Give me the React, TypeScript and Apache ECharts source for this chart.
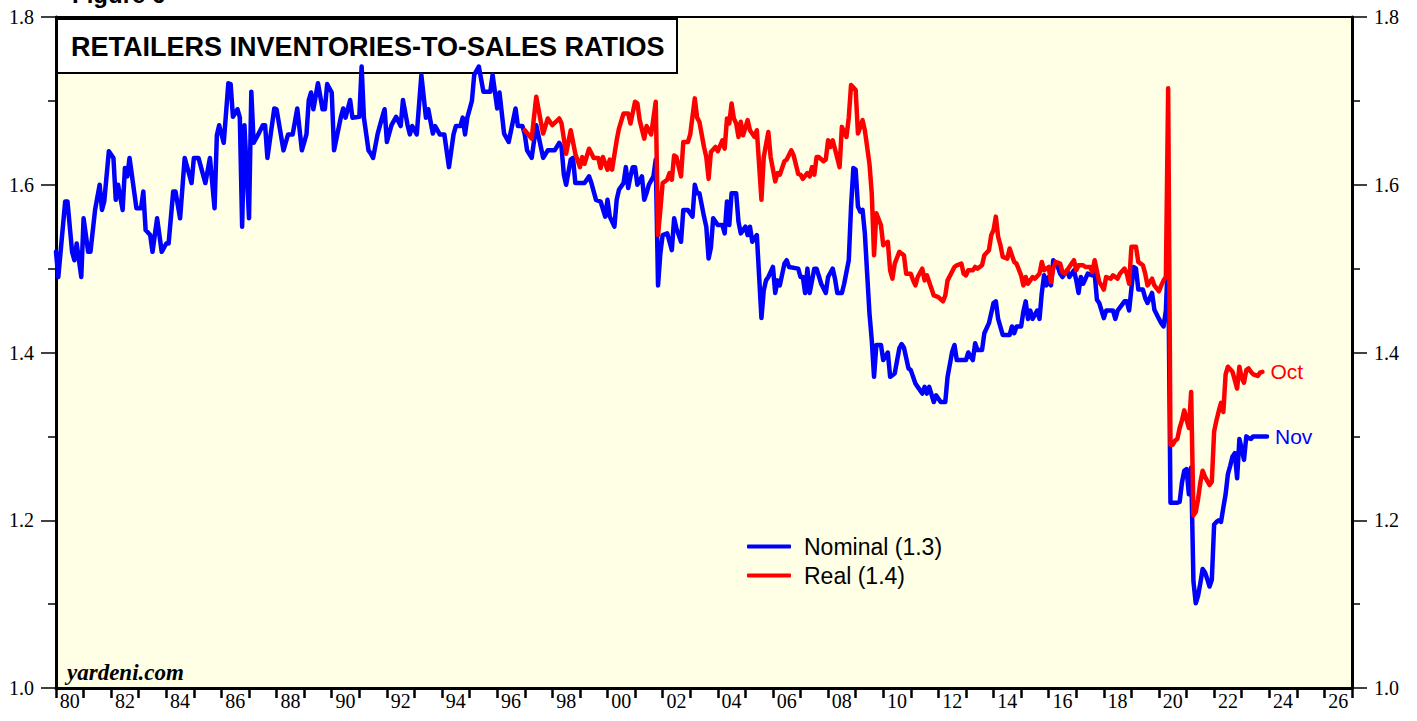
import React, { useEffect, useRef } from "react";
import * as echarts from "echarts";

// Each point: [months since Jan 1980, ratio]
const nominal1980s: [number, number][] = [
  [0,1.52],[1,1.49],[4,1.58],[5,1.58],[7,1.52],[8,1.51],[9,1.53],[11,1.49],[12,1.56],[14,1.52],[15,1.52],[17,1.57],
  [19,1.60],[20,1.57],[21,1.58],[23,1.64],[25,1.632],[26,1.582],[27,1.60],[29,1.57],[30,1.62],[31,1.61],[32,1.632],
  [35,1.572],[37,1.572],[38,1.592],[39,1.546],[41,1.54],[42,1.52],[44,1.56],[46,1.52],[48,1.53],[49,1.53],[51,1.592],
  [52,1.592],[54,1.56],[56,1.632],[59,1.602],[60,1.632],[62,1.632],[65,1.602],[67,1.632],[69,1.572],[70,1.659],
  [71,1.671],[73,1.65],[75,1.721],[76,1.72],[77,1.681],[79,1.69],[80,1.68],[81,1.55],[82,1.671],[84,1.56],[85,1.711],
  [86,1.65],[88,1.66],[90,1.671],[91,1.671],[92,1.632],[95,1.691],[96,1.69],[99,1.641],[101,1.66],[103,1.66],
  [105,1.691],[107,1.641],[109,1.66],[110,1.701],[111,1.71],[112,1.69],[114,1.721],[116,1.69],[117,1.69],[118,1.72]
];
const nominal1990s: [number, number][] = [
  [120,1.71],[121,1.641],[124,1.681],[125,1.691],[126,1.68],[128,1.701],[129,1.68],[132,1.681],[133,1.741],[134,1.68],
  [136,1.641],[137,1.637],[138,1.632],[140,1.661],[142,1.681],[143,1.69],[144,1.651],[146,1.671],[148,1.681],[150,1.67],
  [151,1.701],[153,1.671],[154,1.66],[155,1.67],[157,1.66],[159,1.731],[161,1.68],[162,1.69],[164,1.661],[165,1.67],
  [167,1.66],[169,1.66],[171,1.621],[173,1.66],[174,1.67],[176,1.67],[177,1.68],[178,1.66],[179,1.68],[181,1.70],
  [182,1.731],[184,1.741],[186,1.711],[189,1.711],[190,1.731],[192,1.691],[193,1.71],[195,1.661],[197,1.651],
  [200,1.691],[201,1.67],[203,1.67],[204,1.66],[205,1.641],[207,1.632],[209,1.671],[211,1.645],[212,1.632],
  [214,1.641],[217,1.641],[219,1.65],[220,1.645],[221,1.612],[222,1.60],[224,1.63],[225,1.632],[226,1.602],
  [230,1.602],[232,1.61],[233,1.602],[235,1.582],[237,1.58],[239,1.562]
];
const nominal2000s: [number, number][] = [
  [240,1.582],[241,1.562],[243,1.55],[244,1.582],[245,1.594],[247,1.602],[248,1.621],[249,1.596],[250,1.61],
  [251,1.621],[252,1.621],[253,1.60],[255,1.61],[256,1.582],[257,1.59],[258,1.60],[260,1.61],[261,1.63],[262,1.48],
  [263,1.518],[264,1.54],[266,1.542],[268,1.522],[269,1.56],[270,1.548],[272,1.532],[273,1.57],[275,1.57],[277,1.562],
  [278,1.60],[279,1.59],[280,1.59],[282,1.562],[283,1.55],[284,1.512],[285,1.525],[286,1.56],[288,1.552],[290,1.552],
  [291,1.542],[292,1.58],[293,1.552],[294,1.59],[296,1.59],[297,1.556],[298,1.542],[300,1.55],[301,1.54],[302,1.55],
  [303,1.532],[305,1.54],[307,1.441],[308,1.474],[309,1.486],[310,1.49],[312,1.502],[313,1.471],[314,1.486],
  [315,1.48],[317,1.506],[318,1.51],[319,1.502],[323,1.50],[324,1.49],[325,1.49],[326,1.471],[327,1.50],[328,1.471],
  [330,1.50],[331,1.50],[333,1.482],[335,1.471],[336,1.49],[338,1.50],[339,1.488],[340,1.471],[342,1.471],
  [343,1.482],[345,1.51],[346,1.574],[347,1.62],[348,1.618],[349,1.574],[350,1.568],[351,1.57],[352,1.542],
  [353,1.494],[354,1.447],[355,1.415],[356,1.371],[357,1.409],[359,1.409]
];
const nominal2010s: [number, number][] = [
  [360,1.391],[362,1.40],[363,1.371],[365,1.375],[367,1.405],[368,1.41],[369,1.406],[371,1.381],[372,1.379],
  [374,1.363],[375,1.359],[377,1.351],[378,1.359],[379,1.351],[380,1.359],[382,1.341],[383,1.349],[385,1.341],
  [387,1.341],[388,1.371],[390,1.401],[391,1.409],[392,1.391],[396,1.391],[397,1.40],[399,1.391],[400,1.411],
  [401,1.403],[403,1.403],[404,1.423],[406,1.435],[408,1.459],[409,1.461],[410,1.44],[412,1.421],[415,1.421],
  [416,1.431],[417,1.423],[418,1.431],[420,1.431],[421,1.449],[422,1.461],[423,1.44],[424,1.45],[425,1.44],
  [427,1.45],[428,1.44],[429,1.471],[430,1.492],[431,1.48],[432,1.49],[433,1.48],[434,1.51],[436,1.502],[437,1.494],
  [438,1.49],[440,1.498],[441,1.49],[443,1.498],[444,1.486],[445,1.471],[446,1.49],[447,1.482],[449,1.494],
  [451,1.492],[452,1.494],[453,1.463],[454,1.459],[456,1.441],[457,1.45],[460,1.45],[461,1.44],[462,1.45],
  [465,1.461],[466,1.461],[467,1.45],[469,1.502],[470,1.50],[471,1.475],[473,1.475],[474,1.465],[475,1.459],
  [477,1.471],[478,1.451]
];
const nominal2020s: [number, number][] = [
  [480,1.44],[481,1.435],[482,1.431],[483,1.45],[484,1.52],[485,1.221],[486,1.221],[487,1.221],[488,1.221],
  [489,1.222],[490,1.245],[491,1.259],[492,1.261],[493,1.231],[494,1.263],[495,1.127],[496,1.101],[497,1.11],
  [498,1.125],[499,1.142],[500,1.138],[501,1.13],[502,1.121],[503,1.129],[504,1.195],[505,1.198],[506,1.20],
  [507,1.198],[508,1.215],[509,1.231],[510,1.255],[511,1.265],[512,1.276],[513,1.28],[514,1.25],[515,1.297],
  [516,1.285],[517,1.272],[518,1.30],[519,1.298],[520,1.297],[521,1.30],[522,1.30],[523,1.30],[524,1.30],
  [525,1.30],[526,1.30],[527,1.30]
];

const real1990s: [number, number][] = [
  [204,1.665],[207,1.655],[209,1.705],[211,1.675],[212,1.661],[214,1.679],[216,1.671],[219,1.679],[220,1.673],
  [222,1.637],[224,1.665],[226,1.637],[228,1.621],[229,1.633],[230,1.625],[232,1.643],[234,1.632],[236,1.632],
  [237,1.62],[238,1.633]
];
const real2000s: [number, number][] = [
  [240,1.618],[241,1.63],[242,1.618],[244,1.653],[245,1.667],[247,1.685],[249,1.685],[250,1.673],[252,1.699],
  [253,1.697],[254,1.677],[256,1.655],[257,1.67],[258,1.665],[259,1.66],[261,1.699],[262,1.54],[263,1.57],
  [264,1.602],[266,1.606],[267,1.614],[268,1.606],[269,1.635],[270,1.633],[272,1.61],[273,1.651],[275,1.651],
  [276,1.66],[278,1.703],[279,1.68],[280,1.675],[282,1.645],[283,1.633],[284,1.607],[285,1.639],[287,1.645],
  [288,1.64],[290,1.653],[291,1.643],[292,1.679],[293,1.673],[294,1.697],[295,1.679],[296,1.673],[297,1.657],
  [298,1.675],[299,1.659],[301,1.677],[302,1.665],[304,1.657],[305,1.665],[307,1.582],[308,1.633],[310,1.663],
  [311,1.633],[313,1.604],[314,1.614],[315,1.612],[317,1.628],[318,1.63],[320,1.641],[321,1.635],[323,1.613],
  [324,1.612],[325,1.607],[327,1.614],[328,1.61],[329,1.621],[330,1.612],[331,1.633],[332,1.633],[334,1.628],
  [335,1.63],[336,1.653],[337,1.645],[338,1.653],[340,1.632],[341,1.621],[342,1.669],[344,1.657],[345,1.68],
  [346,1.719],[348,1.713],[349,1.661],[351,1.677],[352,1.665],[354,1.625],[355,1.59],[356,1.516],[357,1.566],
  [359,1.552]
];
const real2010s: [number, number][] = [
  [360,1.528],[362,1.532],[363,1.498],[364,1.488],[365,1.506],[367,1.52],[369,1.516],[370,1.494],[372,1.494],
  [373,1.486],[374,1.48],[375,1.49],[377,1.50],[378,1.486],[379,1.492],[381,1.476],[382,1.468],[384,1.466],
  [386,1.461],[387,1.468],[388,1.486],[391,1.502],[392,1.504],[394,1.506],[395,1.494],[396,1.492],[397,1.498],
  [399,1.498],[400,1.502],[401,1.50],[403,1.504],[404,1.516],[406,1.522],[407,1.54],[408,1.546],[409,1.562],
  [410,1.538],[411,1.528],[412,1.514],[414,1.512],[415,1.524],[417,1.508],[418,1.506],[420,1.492],[421,1.48],
  [422,1.49],[423,1.482],[425,1.49],[426,1.488],[428,1.494],[429,1.508],[430,1.498],[432,1.502],[433,1.484],
  [434,1.50],[435,1.508],[437,1.506],[438,1.496],[439,1.494],[441,1.502],[442,1.506],[443,1.51],[444,1.498],
  [445,1.504],[447,1.504],[448,1.502],[450,1.502],[451,1.496],[452,1.51],[454,1.484],[455,1.48],[456,1.475],
  [457,1.49],[459,1.488],[460,1.492],[462,1.488],[463,1.494],[465,1.50],[466,1.494],[467,1.482],[468,1.526],
  [470,1.526],[471,1.508],[473,1.504],[474,1.494],[475,1.48],[477,1.488],[478,1.48]
];
const real2020s: [number, number][] = [
  [480,1.473],[481,1.48],[482,1.486],[483,1.49],[484,1.715],[485,1.29],[486,1.29],[487,1.295],[488,1.297],
  [489,1.31],[490,1.319],[491,1.331],[492,1.32],[493,1.31],[494,1.353],[495,1.206],[496,1.21],[497,1.225],
  [498,1.245],[499,1.259],[500,1.252],[501,1.247],[502,1.242],[503,1.246],[504,1.306],[505,1.319],[506,1.33],
  [507,1.34],[508,1.329],[509,1.374],[510,1.383],[511,1.38],[512,1.377],[513,1.367],[514,1.357],[515,1.383],
  [516,1.37],[517,1.364],[518,1.379],[519,1.381],[520,1.377],[521,1.374],[522,1.373],[523,1.372],[524,1.376],
  [525,1.377]
];

const yearCategories: string[] = Array.from({ length: 47 }, (_, i) => String(1980 + i));
const seriesNames = ["Nominal (1.3)", "Real (1.4)"];
const endLabels = ["Nov", "Oct"];
const title = "RETAILERS INVENTORIES-TO-SALES RATIOS";

const toPoints = (groups: [number, number][][]) =>
  groups.flat().map(([m, v]) => [1980 + m / 12, v]);

const serif = '"Liberation Serif", "Times New Roman", serif';
const sans = '"Liberation Sans", Arial, sans-serif';

const yAxisBase = (position: "left" | "right") => ({
  type: "value",
  position,
  min: 1,
  max: 1.8,
  interval: 0.2,
  axisLine: { show: true, onZero: false, lineStyle: { color: "#000", width: 3 } },
  axisTick: { show: true, length: 15, lineStyle: { color: "#000", width: 1.5 } },
  minorTick: { show: true, splitNumber: 2, length: 8, lineStyle: { color: "#000", width: 1.5 } },
  axisLabel: {
    formatter: (v: number) => v.toFixed(1),
    color: "#000",
    fontFamily: serif,
    fontSize: 20,
    margin: 22,
  },
  splitLine: { show: false },
  minorSplitLine: { show: false },
});

export default function App() {
  const ref = useRef<HTMLDivElement>(null);
  useEffect(() => {
    document.body.style.margin = "0";
    const chart = echarts.init(ref.current!, null, { renderer: "svg" });
    chart.setOption({
      animation: false,
      backgroundColor: "#ffffff",
      grid: {
        left: 56, right: 65, top: 17, bottom: 33,
        show: true, backgroundColor: "#FFFFE6", borderColor: "#000", borderWidth: 2,
      },
      xAxis: [
        { type: "value", min: 1980, max: 2027, show: false },
        {
          type: "category",
          data: yearCategories,
          boundaryGap: true,
          position: "bottom",
          axisLine: { show: true, lineStyle: { color: "#000", width: 3 } },
          axisTick: { show: true, interval: 0, length: 10, lineStyle: { color: "#000", width: 2.5 } },
          axisLabel: {
            interval: 1,
            formatter: (v: string) => v.slice(2),
            color: "#000",
            fontFamily: serif,
            fontSize: 20,
            margin: 3,
          },
          splitLine: { show: false },
        },
      ],
      yAxis: [yAxisBase("left"), yAxisBase("right")],
      legend: {
        data: seriesNames,
        orient: "vertical",
        left: 742,
        top: 530,
        itemWidth: 44,
        itemHeight: 4,
        itemGap: 6,
        icon: "roundRect",
        selectedMode: false,
        textStyle: { fontSize: 23, fontFamily: sans, color: "#000", padding: [0, 0, 0, 8] },
      },
      graphic: [
        {
          type: "text",
          x: 72,
          y: 6,
          z: 1,
          style: { text: "Figure 6", font: `bold 24px ${sans}`, fill: "#000", verticalAlign: "bottom" },
        },
        {
          type: "rect",
          z: 1,
          shape: { x: 57, y: 19, width: 620, height: 54 },
          style: { fill: "#ffffff", stroke: "#000", lineWidth: 2 },
        },
        {
          type: "text",
          x: 71,
          y: 47,
          z: 1,
          style: { text: title, font: `bold 27px ${sans}`, fill: "#000", verticalAlign: "middle" },
        },
        {
          type: "text",
          x: 67,
          y: 672,
          z: 1,
          style: { text: "yardeni.com", font: `italic bold 23px ${serif}`, fill: "#000", verticalAlign: "middle" },
        },
      ],
      series: [
        {
          type: "line",
          name: seriesNames[0],
          xAxisIndex: 0,
          yAxisIndex: 0,
          data: toPoints([nominal1980s, nominal1990s, nominal2000s, nominal2010s, nominal2020s]),
          symbol: "none",
          z: 3,
          color: "#0000FF",
          lineStyle: { color: "#0000FF", width: 4.5, cap: "round", join: "round" },
          endLabel: { show: true, formatter: endLabels[0], color: "#0000FF", fontSize: 21, fontFamily: sans, distance: 8 },
        },
        {
          type: "line",
          name: seriesNames[1],
          xAxisIndex: 0,
          yAxisIndex: 0,
          data: toPoints([real1990s, real2000s, real2010s, real2020s]),
          symbol: "none",
          z: 4,
          color: "#FF0000",
          lineStyle: { color: "#FF0000", width: 4.5, cap: "round", join: "round" },
          endLabel: { show: true, formatter: endLabels[1], color: "#FF0000", fontSize: 21, fontFamily: sans, distance: 8 },
        },
      ],
    });
    return () => chart.dispose();
  }, []);
  return <div ref={ref} style={{ position: "fixed", left: 0, top: 0, width: 1417, height: 721 }} />;
}
